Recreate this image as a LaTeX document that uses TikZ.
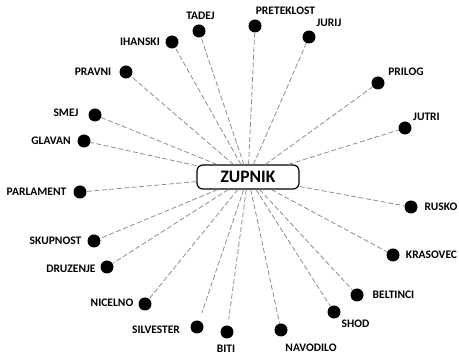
\documentclass[tikz,border=0pt]{standalone}
\usepackage{fontspec}
\setmainfont{Carlito}
\begin{document}
\begin{tikzpicture}[x=1pt,y=-1pt,
  dot/.style={circle,fill=black,inner sep=0pt,minimum size=13pt},
  lbl/.style={font=\fontsize{11.5}{12}\selectfont\bfseries,inner sep=0pt},
  link/.style={draw=gray!90,line width=0.8pt,dash pattern=on 5pt off 2.5pt},
  hub/.style={draw=black,line width=1.2pt,fill=white,rounded corners=6pt,minimum width=102pt,minimum height=24pt,inner sep=0pt,font=\fontsize{17.5}{18}\selectfont\bfseries}]
\useasboundingbox (0,0) rectangle (459,355);
\node[hub] (hub) at (248,177) {ZUPNIK};
\foreach \t/\dx/\dy/\lx/\ly/\sh [count=\i] in {
  TADEJ/199/31/200.5/15.5/0,
  IHANSKI/172/42/140/41.5/0,
  PRAVNI/126/72/93/72/0,
  SMEJ/95/115/66/113/0,
  GLAVAN/84/141/51/141/0,
  PRETEKLOST/255/26/285.5/11/0,
  JURIJ/309/37/329/23/0,
  PRILOG/378/83/406/72/0,
  JUTRI/405/128/426.5/117/0,
  RUSKO/411/207/441/206.5/0,
  KRASOVEC/393/255/431.5/255/0,
  BELTINCI/357/295/393.5/295/0,
  SHOD/334/312/355.5/324/0,
  NAVODILO/281/330/311/347.5/0,
  BITI/227/332/226/348.8/6,
  SILVESTER/197/327/156/329.5/8,
  NICELNO/145/304/112/303/0,
  DRUZENJE/107/267/71/269/0,
  SKUPNOST/94/241/55.5/241/0,
  PARLAMENT/80/192/36.5/192/0}{
  \node[dot] (d\i) at (\dx,\dy) {};
  \node[lbl] (l\i) at (\lx,\ly) {\t};
  \draw[link,shorten >=\sh pt] (hub) -- (d\i);
}
\end{tikzpicture}
\end{document}
